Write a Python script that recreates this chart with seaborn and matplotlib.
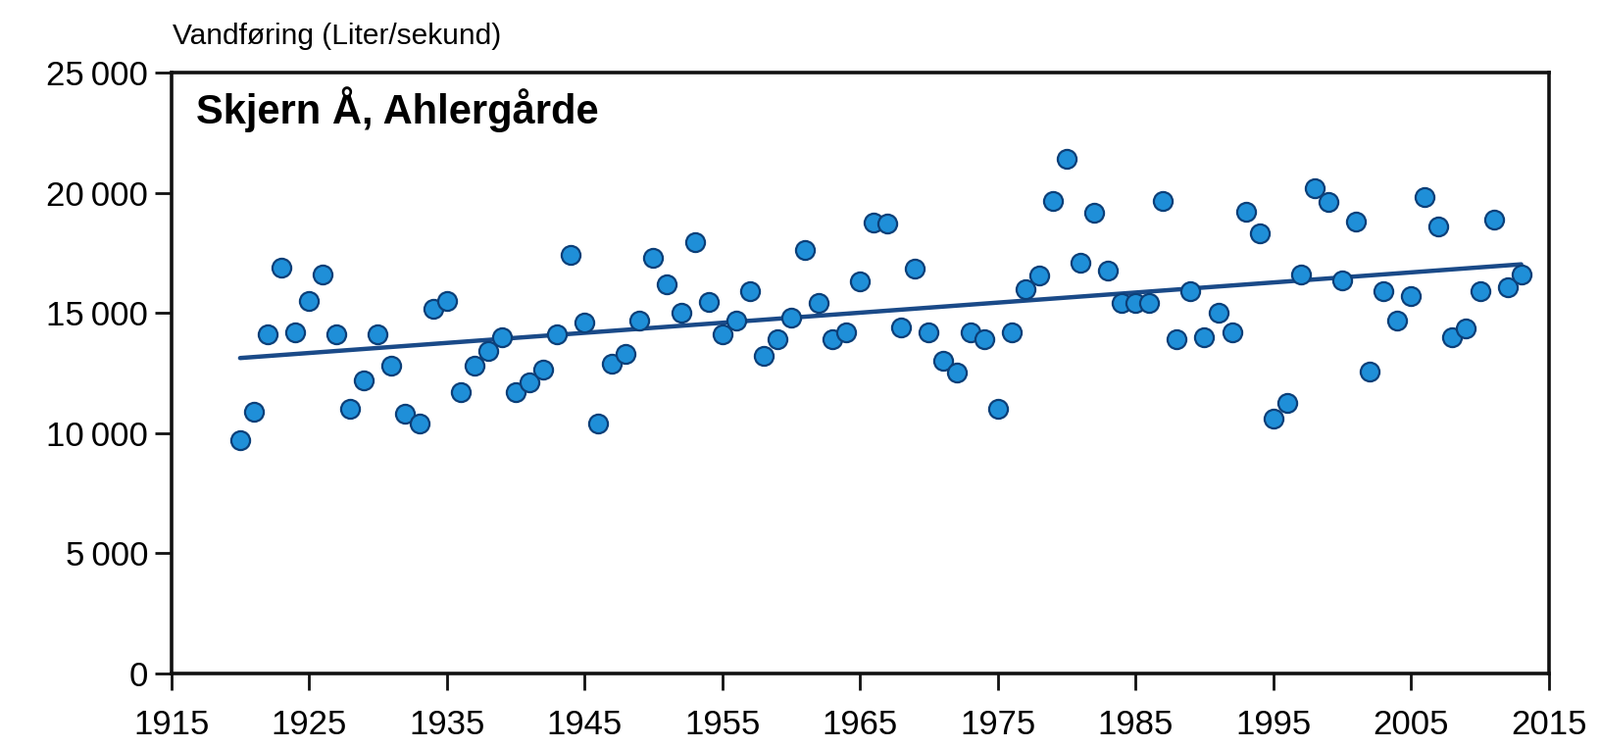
import numpy as np
import pandas as pd
import seaborn as sns
import matplotlib.pyplot as plt
from matplotlib.ticker import FuncFormatter

# Annual mean discharge, Skjern Å at Ahlergårde
years = list(range(1920, 2014))
flow = [
    9700, 10900, 14100, 16900, 14200, 15500, 16600, 14100, 11000, 12200,
    14100, 12800, 10800, 10400, 15150, 15500, 11700, 12800, 13400, 14000,
    11700, 12100, 12650, 14100, 17400, 14600, 10400, 12900, 13300, 14700,
    17300, 16200, 15000, 17950, 15450, 14100, 14700, 15900, 13200, 13900,
    14800, 17600, 15400, 13900, 14200, 16300, 18750, 18700, 14400, 16850,
    14200, 13000, 12500, 14200, 13900, 11000, 14200, 16000, 16550, 19650,
    21400, 17100, 19150, 16750, 15400, 15400, 15400, 19650, 13900, 15900,
    14000, 15000, 14200, 19200, 18300, 10600, 11250, 16600, 20200, 19600,
    16350, 18800, 12550, 15900, 14700, 15700, 19800, 18600, 14000, 14350,
    15900, 18900, 16050, 16600,
]
x_ticks = list(range(1915, 2016, 10))
y_ticks = [0, 5000, 10000, 15000, 20000, 25000]

df = pd.DataFrame({"year": years, "flow": flow})

sns.set_style("white")
plt.rcParams["font.family"] = ["Liberation Sans", "DejaVu Sans"]
plt.rcParams["text.color"] = "black"
plt.rcParams["xtick.color"] = "black"
plt.rcParams["ytick.color"] = "black"

fig = plt.figure(figsize=(16.32, 7.63), dpi=100)
ax = fig.add_axes([0.107, 0.0996, 0.861, 0.8035])

sns.regplot(data=df, x="year", y="flow", scatter=False, ci=None, ax=ax,
            line_kws={"color": "#1a4a88", "linewidth": 3.2})
sns.scatterplot(data=df, x="year", y="flow", ax=ax, s=190,
                color="#1f8fd8", edgecolor="#0c3f78", linewidth=1.6, zorder=3)

ax.set_xlim(1915, 2015)
ax.set_ylim(0, 25000)
ax.set_xticks(x_ticks)
ax.set_yticks(y_ticks)
ax.yaxis.set_major_formatter(FuncFormatter(
    lambda v, p: f"{int(v):,}".replace(",", "\u2009")))
ax.set_xlabel("")
ax.set_ylabel("")

for side in ["left", "bottom", "top", "right"]:
    ax.spines[side].set_visible(True)
    ax.spines[side].set_color("#111111")
    ax.spines[side].set_linewidth(2.6)

ax.tick_params(axis="both", direction="out", length=12, width=2,
               bottom=True, left=True, color="#111111",
               labelcolor="black", labelsize=25, pad=5)
ax.tick_params(axis="x", pad=14)

ax.text(0.018, 0.976, "Skjern Å, Ahlergårde", transform=ax.transAxes,
        fontsize=30, fontweight="bold", va="top", ha="left")
fig.text(0.108, 0.952, "Vandføring (Liter/sekund)", fontsize=21.5,
         ha="left", va="center")

fig.savefig("out.png", dpi=100)
